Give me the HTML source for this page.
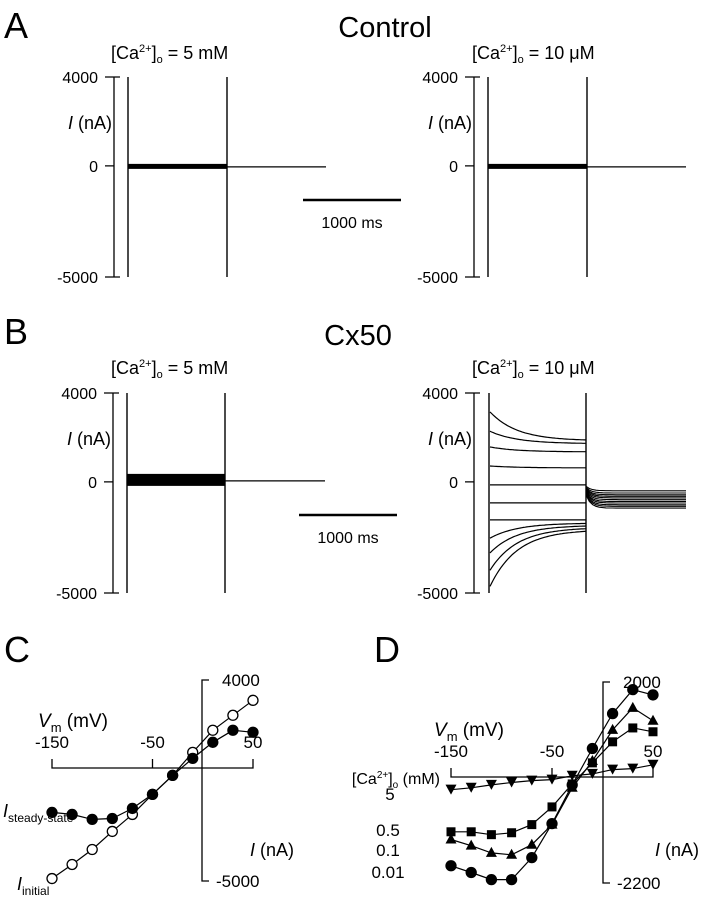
<!DOCTYPE html>
<html><head><meta charset="utf-8">
<style>
html,body{margin:0;padding:0;background:#fff;}
svg{display:block;font-family:"Liberation Sans",Arial,sans-serif;}
text{fill:#000;}
</style></head>
<body>
<svg id="fig" width="707" height="900" viewBox="0 0 707 900" xmlns="http://www.w3.org/2000/svg">
<g id="dyn"></g>
<text x="4" y="38" font-size="36">A</text>
<text x="385" y="37" font-size="29" text-anchor="middle">Control</text>
<text x="111" y="59" font-size="18">[Ca<tspan font-size="11" dy="-7">2+</tspan><tspan dy="7">]</tspan><tspan font-size="11" dy="4">o</tspan><tspan dy="-4"> = 5 mM</tspan></text>
<text x="472" y="59" font-size="18">[Ca<tspan font-size="11" dy="-7">2+</tspan><tspan dy="7">]</tspan><tspan font-size="11" dy="4">o</tspan><tspan dy="-4"> = 10 μM</tspan></text>
<text x="4" y="344" font-size="36">B</text>
<text x="358" y="345" font-size="29" text-anchor="middle">Cx50</text>
<text x="111" y="374" font-size="18">[Ca<tspan font-size="11" dy="-7">2+</tspan><tspan dy="7">]</tspan><tspan font-size="11" dy="4">o</tspan><tspan dy="-4"> = 5 mM</tspan></text>
<text x="472" y="374" font-size="18">[Ca<tspan font-size="11" dy="-7">2+</tspan><tspan dy="7">]</tspan><tspan font-size="11" dy="4">o</tspan><tspan dy="-4"> = 10 μM</tspan></text>
<text x="4" y="662" font-size="36">C</text>
<text x="374" y="662" font-size="36">D</text>
</svg>
<script>
// Panel B right traces (nA)
const bInitial = [3200, 2300, 1580, 720, -135, -945, -1710, -2560, -3240, -4050, -4800];
const bSteady = [1850, 1720, 1350, 630, -135, -945, -1710, -1850, -1950, -2050, -2150];
const bTail = [-400, -500, -580, -650, -720, -800, -880, -950, -1030, -1100, -1180];
// Panel C (mV, nA)
const cVoltages = [-150, -130, -110, -90, -70, -50, -30, -10, 10, 30, 50];
const cSteady = [-1930, -2020, -2240, -2200, -1750, -1120, -270, 490, 1210, 1750, 1660];
const cInitial = [-4890, -4260, -3590, -2780, -2020, -1120, -270, 760, 1750, 2420, 3090];
// Panel D
const dVoltages = [-150, -130, -110, -90, -70, -50, -30, -10, 10, 30, 50];
const dCa5 = [-250, -210, -150, -100, -60, -40, 40, 80, 170, 190, 270];
const dCa05 = [-1130, -1130, -1190, -1150, -980, -610, -130, 310, 750, 1040, 960];
const dCa01 = [-1290, -1420, -1570, -1610, -1400, -980, -210, 350, 1000, 1460, 1190];
const dCa001 = [-1840, -1980, -2130, -2130, -1670, -960, -150, 610, 1340, 1840, 1730];
const dLevels = ['5', '0.5', '0.1', '0.01'];

const NS = 'http://www.w3.org/2000/svg';
const root = document.getElementById('dyn');
function mk(tag, attrs, parent) {
  const e = document.createElementNS(NS, tag);
  for (const k in attrs) e.setAttribute(k, attrs[k]);
  (parent || root).appendChild(e);
  return e;
}
function txt(x, y, s, size, anchor, parent) {
  const t = mk('text', {x: x, y: y, 'font-size': size, 'text-anchor': anchor || 'start'}, parent);
  t.textContent = s;
  return t;
}
function ylabelI(x, y, parent) {
  const t = mk('text', {x: x, y: y, 'font-size': 18, 'text-anchor': 'start'}, parent);
  const i = document.createElementNS(NS, 'tspan'); i.setAttribute('font-style', 'italic'); i.textContent = 'I';
  t.appendChild(i);
  const r = document.createElementNS(NS, 'tspan'); r.textContent = ' (nA)';
  t.appendChild(r);
  return t;
}

function tracePanel(name, axX, top, bot, l1, l2, tailEnd, kind) {
  const g = mk('g', {});
  
  
  const ys = v => top + (4000 - v) / 9000 * (bot - top);
  const ax = mk('path', {d: `M${axX+6},${top} H${axX} V${bot} H${axX+6} M${axX},${ys(0)} H${axX-9} M${axX},${top} H${axX-9} M${axX},${bot} H${axX-9}`, stroke: '#000', fill: 'none', 'stroke-width': 1.3}, g);
  
  
  txt(axX - 16, top + 6, '4000', 16, 'end', g);
  txt(axX - 16, ys(0) + 6, '0', 16, 'end', g);
  txt(axX - 16, bot + 6, '-5000', 16, 'end', g);
  ylabelI(axX - 46, top + 52, g);
  mk('line', {x1: l1, y1: top, x2: l1, y2: bot, stroke: '#000', 'stroke-width': 1.4}, g);
  mk('line', {x1: l2, y1: top, x2: l2, y2: bot, stroke: '#000', 'stroke-width': 1.4}, g);
  if (kind === 'flat') {
    mk('rect', {x: l1, y: ys(0) - 2, width: l2 - l1, height: 5, fill: '#000'}, g);
    mk('line', {x1: l2, y1: ys(0) + 1, x2: tailEnd, y2: ys(0) + 1, stroke: '#000', 'stroke-width': 1.2}, g);
  } else if (kind === 'band') {
    mk('rect', {x: l1, y: ys(0) - 8, width: l2 - l1, height: 12, fill: '#000'}, g);
    mk('line', {x1: l2, y1: ys(0) - 1, x2: tailEnd, y2: ys(0) - 1, stroke: '#000', 'stroke-width': 1.2}, g);
  } else {
    for (let k = 0; k < bInitial.length; k++) {
      let d = '';
      for (let s = 0; s <= 60; s++) {
        const x = l1 + 1 + (l2 - l1 - 1) * s / 60;
        const t = (x - l1) / (l2 - l1);
        const v = bSteady[k] + (bInitial[k] - bSteady[k]) * Math.exp(-t / 0.28);
        d += (s ? 'L' : 'M') + x.toFixed(1) + ',' + ys(v).toFixed(1);
      }
      const p = mk('path', {d: d, stroke: '#000', fill: 'none', 'stroke-width': 1.2}, g);
      
      
      let d2 = '';
      for (let s = 0; s <= 30; s++) {
        const x = l2 + (tailEnd - l2) * s / 30;
        const t = (x - l2) / (tailEnd - l2);
        const v = bTail[k] * (1 - 0.5 * Math.exp(-t / 0.05));
        d2 += (s ? 'L' : 'M') + x.toFixed(1) + ',' + ys(v).toFixed(1);
      }
      const p2 = mk('path', {d: d2, stroke: '#000', fill: 'none', 'stroke-width': 1.1}, g);
      
      
    }
  }
}
tracePanel('a-left-traces', 114, 77, 277, 128, 227, 326, 'flat');
tracePanel('a-right-traces', 474, 77, 277, 488, 587, 686, 'flat');
tracePanel('b-left-traces', 113, 393, 593, 127, 225, 325, 'band');
tracePanel('b-right-traces', 474, 393, 593, 489, 586, 686, 'decay');

function scaleBar(x1, x2, y, name) {
  const g = mk('g', {});
  
  
  mk('line', {x1: x1, y1: y, x2: x2, y2: y, stroke: '#000', 'stroke-width': 2.5}, g);
  txt((x1 + x2) / 2, y + 28, '1000 ms', 16, 'middle', g);
}
scaleBar(303, 401, 200, 'scale-bar-a');
scaleBar(299, 397, 515, 'scale-bar-b');

function vmLabel(x, y, g) {
  const t = mk('text', {x: x, y: y, 'font-size': 19}, g);
  const a = document.createElementNS(NS, 'tspan'); a.setAttribute('font-style', 'italic'); a.textContent = 'V'; t.appendChild(a);
  const b = document.createElementNS(NS, 'tspan'); b.setAttribute('font-size', 13); b.setAttribute('dy', 5); b.textContent = 'm'; t.appendChild(b);
  const c = document.createElementNS(NS, 'tspan'); c.setAttribute('dy', -5); c.textContent = ' (mV)'; t.appendChild(c);
}
function ivAxes(g, x0, x1, yAx, axX, top, bot, topLbl, botLbl, topV, botV) {
  const vx = v => x0 + (v + 150) / 200 * (x1 - x0);
  const iy = i => top + (topV - i) / (topV - botV) * (bot - top);
  const xa = mk('path', {d: `M${x0},${yAx-9} V${yAx} H${x1} V${yAx-9} M${vx(-50)},${yAx} V${yAx-9}`, stroke: '#000', fill: 'none', 'stroke-width': 1.3}, g);
  
  
  const ya = mk('path', {d: `M${axX+7},${top} H${axX} V${bot} H${axX+7}`, stroke: '#000', fill: 'none', 'stroke-width': 1.3}, g);
  
  
  txt(x0, yAx - 20, '-150', 17, 'middle', g);
  txt(vx(-50), yAx - 20, '-50', 17, 'middle', g);
  txt(x1, yAx - 20, '50', 17, 'middle', g);
  txt(axX + 20, top + 6, topLbl, 17, 'start', g);
  txt(axX + 14, bot + 6, botLbl, 17, 'start', g);
  return {vx: vx, iy: iy};
}
function series(g, sc, vs, is, shape, filled, name) {
  const sg = mk('g', {}, g);
  
  
  let d = '';
  vs.forEach((v, k) => { d += (k ? 'L' : 'M') + sc.vx(v).toFixed(1) + ',' + sc.iy(is[k]).toFixed(1); });
  mk('path', {d: d, stroke: '#000', fill: 'none', 'stroke-width': 1.2}, sg);
  vs.forEach((v, k) => {
    const x = sc.vx(v), y = sc.iy(is[k]);
    let m;
    if (shape === 'circle') m = mk('circle', {cx: x, cy: y, r: 5, fill: filled ? '#000' : '#fff', stroke: '#000', 'stroke-width': 1.3}, sg);
    else if (shape === 'square') m = mk('rect', {x: x - 4.5, y: y - 4.5, width: 9, height: 9, fill: '#000'}, sg);
    else if (shape === 'up') m = mk('path', {d: `M${x},${y-6} L${x+5.5},${y+4} L${x-5.5},${y+4}Z`, fill: '#000'}, sg);
    else m = mk('path', {d: `M${x},${y+5} L${x+5.5},${y-5} L${x-5.5},${y-5}Z`, fill: '#000'}, sg);
    
    
  });
}
const gC = mk('g', {});


const scC = ivAxes(gC, 52, 253, 768, 202, 680, 881, '4000', '-5000', 4000, -5000);
vmLabel(38, 727, gC);
ylabelI(250, 856, gC);
series(gC, scC, cVoltages, cInitial, 'circle', false, 'series-initial');
series(gC, scC, cVoltages, cSteady, 'circle', true, 'series-steady-state');
(function(){
  const t = mk('text', {x: 3, y: 817, 'font-size': 18}, gC);
  t.innerHTML = '<tspan font-style="italic">I</tspan><tspan font-size="12" dy="5">steady-state</tspan>';
  const t2 = mk('text', {x: 17, y: 890, 'font-size': 18}, gC);
  t2.innerHTML = '<tspan font-style="italic">I</tspan><tspan font-size="12" dy="5">initial</tspan>';
})();
const gD = mk('g', {});


const scD = ivAxes(gD, 451, 653, 777, 603, 682, 883, '2000', '-2200', 2000, -2200);
vmLabel(434, 736, gD);
ylabelI(655, 856, gD);
series(gD, scD, dVoltages, dCa5, 'down', true, 'series-ca-5mM');
series(gD, scD, dVoltages, dCa05, 'square', true, 'series-ca-0.5mM');
series(gD, scD, dVoltages, dCa01, 'up', true, 'series-ca-0.1mM');
series(gD, scD, dVoltages, dCa001, 'circle', true, 'series-ca-0.01mM');
(function(){
  const t = mk('text', {x: 440, y: 784, 'font-size': 16, 'text-anchor': 'end'}, gD);
  t.innerHTML = '[Ca<tspan font-size="10" dy="-6">2+</tspan><tspan dy="6">]</tspan><tspan font-size="10" dy="4">o</tspan><tspan dy="-4"> (mM)</tspan>';
  
  
  const ys = [800, 836, 856, 878];
  dLevels.forEach((s, k) => {
    const e = txt(k === 0 ? 390 : 388, ys[k], s, 17, 'middle', gD);
    
    
  });
})();
</script>
</body></html>
